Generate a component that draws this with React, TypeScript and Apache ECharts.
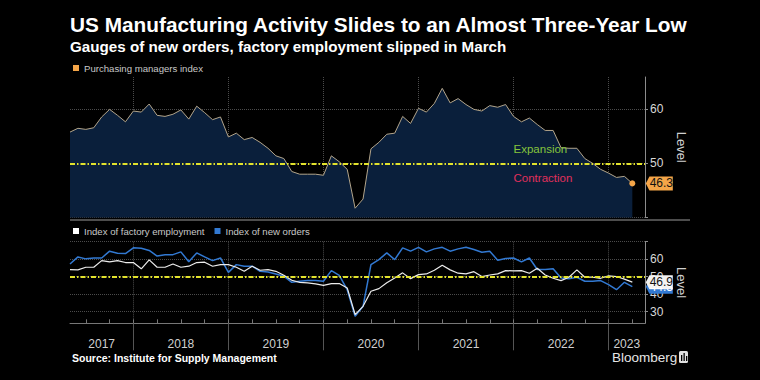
import React, { useEffect, useRef } from 'react';
import * as echarts from 'echarts';

const TITLE = 'US Manufacturing Activity Slides to an Almost Three-Year Low';
const SUBTITLE = 'Gauges of new orders, factory employment slipped in March';
const SOURCE = 'Source: Institute for Supply Management';
const PMI_NAME = 'Purchasing managers index';
const EMP_NAME = 'Index of factory employment';
const NO_NAME = 'Index of new orders';

// x is measured in months from the start of 2017; monthly readings are plotted at month end.
// First reading: April 2017 (end of month 4). Last: March 2023.
const FIRST_X = 4;
const AXIS_MIN = 4;
const AXIS_MAX = 76.6;

const years = ['2017', '2018', '2019', '2020', '2021', '2022', '2023'];
const yearStarts = [0, 12, 24, 36, 48, 60, 72];

// ISM manufacturing PMI, Apr 2017 – Mar 2023
const pmi = [
  55.8, 56.5, 56.3, 56.6, 58.6, 60.0, 58.9, 57.7, 59.7,
  59.5, 61.0, 58.9, 58.7, 59.1, 59.9, 58.2, 60.6, 59.4, 58.1, 58.6, 54.9,
  55.6, 54.4, 54.8, 53.9, 52.8, 51.4, 50.9, 48.5, 48.0, 48.0, 48.0, 47.8,
  51.4, 50.3, 48.9, 41.7, 43.4, 52.7, 53.9, 55.4, 55.6, 58.7, 57.4, 60.2,
  59.5, 61.1, 63.9, 61.2, 62.0, 60.9, 60.0, 59.7, 60.7, 60.4, 60.9, 58.7,
  57.7, 58.4, 57.2, 56.1, 56.1, 52.9, 52.8, 52.8, 50.9, 50.0, 48.9, 48.2,
  47.4, 47.6, 46.3,
];

// Employment index, Apr 2017 – Mar 2023
const employment = [
  54.1, 53.9, 55.4, 55.4, 59.2, 58.5, 59.2, 58.1, 58.1,
  54.5, 59.6, 55.4, 55.4, 57.3, 55.4, 56.0, 58.1, 58.3, 56.0, 56.9, 56.9,
  55.4, 53.1, 56.0, 53.7, 54.1, 53.1, 50.8, 48.0, 46.8, 46.5, 45.9, 45.1,
  46.1, 46.1, 43.6, 28.4, 33.1, 41.7, 43.2, 46.5, 49.3, 52.2, 48.9, 51.2,
  51.6, 53.7, 56.5, 53.9, 52.0, 51.6, 52.9, 50.1, 51.0, 51.6, 53.5, 53.3,
  53.5, 52.0, 54.8, 51.0, 49.1, 47.8, 49.7, 53.9, 49.7, 49.7, 49.1, 50.5,
  50.1, 48.6, 46.9,
];

// New orders index, Apr 2017 – Mar 2023
const newOrders = [
  57.3, 61.3, 60.2, 60.7, 60.7, 64.6, 63.4, 63.2, 66.5,
  66.3, 65.0, 61.8, 62.6, 62.6, 64.2, 58.5, 63.6, 61.3, 59.2, 60.7, 52.5,
  56.9, 56.0, 56.0, 53.1, 52.7, 51.6, 50.3, 46.8, 47.4, 47.8, 47.8, 47.4,
  53.5, 50.8, 42.6, 27.4, 33.1, 56.9, 59.8, 63.6, 59.8, 66.5, 64.6, 66.8,
  64.2, 65.9, 66.8, 64.6, 65.9, 66.8, 65.5, 64.0, 64.6, 59.4, 60.4, 60.7,
  58.5, 60.7, 54.1, 54.1, 54.6, 49.3, 48.9, 49.7, 47.4, 47.4, 47.8, 45.5,
  42.6, 46.8, 44.3,
];

const pmiTicks = [40, 50, 60];
const pmiLabels = [50, 60];
const subTicks = [30, 40, 50, 60, 70];
const subLabels = [30, 40, 50, 60];

const FONT = '"Liberation Sans", Arial, sans-serif';
const ORANGE = '#f4a548';
const BLUE = '#3279d2';
const WHITE = '#ececec';
const YELLOW = '#e2e22c';
const GRID_LINE = '#4b4b4b';
const TAG = 'path://M0,7 L4,0 L30,0 L30,14 L4,14 Z';

const toPoints = (vals: number[]) => vals.map((v, i) => [FIRST_X + i, v]);

const yearBounds = yearStarts.filter((s) => s > AXIS_MIN && s < AXIS_MAX);
const yearLabelAt = yearStarts.map(
  (s) => (Math.max(s, AXIS_MIN) + Math.min(s + 12, AXIS_MAX)) / 2
);
const quarterTicks: number[] = [];
for (let q = Math.ceil(AXIS_MIN / 3) * 3; q <= AXIS_MAX; q += 3) quarterTicks.push(q);

const yearFormatter = (v: number) => {
  let best = 0;
  yearLabelAt.forEach((p, i) => {
    if (Math.abs(p - v) < Math.abs(yearLabelAt[best] - v)) best = i;
  });
  return years[best];
};

const fiftyLine = {
  silent: true,
  symbol: 'none',
  label: { show: false },
  lineStyle: { color: YELLOW, type: [5, 2, 1.5, 2], width: 2 },
  data: [{ yAxis: 50 }],
};

const lastTag = (vals: number[], bg: string, fg: string) => {
  const i = vals.length - 1;
  return {
    coord: [FIRST_X + i, vals[i]],
    value: vals[i],
    symbol: TAG,
    symbolSize: [27, 14],
    symbolOffset: [27, 0],
    symbolKeepAspect: false,
    itemStyle: { color: bg },
    label: {
      show: true,
      position: 'inside',
      offset: [2, 0],
      color: fg,
      fontSize: 12,
      fontFamily: FONT,
      formatter: (p: any) => Number(p.value).toFixed(1),
    },
  };
};

const dotted = { color: GRID_LINE, type: 'dotted', width: 1 };

const option: any = {
  animation: false,
  backgroundColor: '#000',
  textStyle: { fontFamily: FONT },
  title: [
    {
      text: TITLE, left: 70, top: 14, padding: 0,
      textStyle: { color: '#fff', fontSize: 20.8, fontWeight: 'bold', fontFamily: FONT },
    },
    {
      text: SUBTITLE, left: 70, top: 39, padding: 0,
      textStyle: { color: '#fff', fontSize: 15.2, fontWeight: 'bold', fontFamily: FONT },
    },
    {
      text: SOURCE, left: 72, top: 352, padding: 0,
      textStyle: { color: '#fff', fontSize: 10.5, fontWeight: 'bold', fontFamily: FONT },
    },
    {
      text: 'Bloomberg', left: 612, top: 350, padding: 0,
      textStyle: { color: '#e6e6e6', fontSize: 13.5, fontWeight: 'normal', fontFamily: FONT },
    },
  ],
  legend: [
    {
      data: [{ name: PMI_NAME, itemStyle: { color: ORANGE } }],
      left: 73, top: 63, padding: 0, icon: 'rect', itemWidth: 6, itemHeight: 6,
      selectedMode: false,
      textStyle: { color: '#c8c8c8', fontSize: 9.6, fontFamily: FONT },
    },
    {
      data: [
        { name: EMP_NAME, itemStyle: { color: '#ffffff' } },
        { name: NO_NAME, itemStyle: { color: BLUE } },
      ],
      left: 73, top: 226, padding: 0, icon: 'rect', itemWidth: 6, itemHeight: 6, itemGap: 10,
      selectedMode: false,
      textStyle: { color: '#c8c8c8', fontSize: 9.6, fontFamily: FONT },
    },
  ],
  grid: [
    { left: 70, right: 115, top: 77, height: 140.4 },
    { left: 70, right: 115, top: 241.7, height: 81.6 },
  ],
  xAxis: [
    {
      gridIndex: 0, type: 'value', position: 'bottom', min: AXIS_MIN, max: AXIS_MAX, z: 3,
      axisLine: { show: false },
      axisTick: { show: false, customValues: yearBounds },
      axisLabel: { show: false },
      splitLine: { show: true, lineStyle: dotted },
    },
    {
      gridIndex: 1, type: 'value', position: 'bottom', min: AXIS_MIN, max: AXIS_MAX,
      axisLine: { show: true, lineStyle: { color: '#777', width: 1 } },
      axisTick: { show: true, inside: true, length: 4, customValues: quarterTicks, lineStyle: { color: '#777' } },
      axisLabel: { show: false },
      splitLine: { show: false },
    },
    {
      gridIndex: 1, type: 'value', position: 'bottom', offset: 0, min: AXIS_MIN, max: AXIS_MAX,
      axisLine: { show: false },
      axisTick: { show: true, length: 27, customValues: yearBounds, lineStyle: { color: '#555' } },
      axisLabel: {
        show: true, customValues: yearLabelAt, formatter: yearFormatter,
        color: '#d0d0d0', fontSize: 12, margin: 15, fontFamily: FONT,
      },
      splitLine: { show: true, lineStyle: dotted },
    },
  ],
  yAxis: [
    {
      gridIndex: 0, type: 'value', position: 'right', min: 40, max: 66, z: 3,
      axisLine: { show: true, lineStyle: { color: '#8c8c8c' } },
      axisTick: { show: true, length: 3, customValues: pmiTicks, lineStyle: { color: '#8c8c8c' } },
      axisLabel: { customValues: pmiLabels, color: '#d8d8d8', fontSize: 12, margin: 5, fontFamily: FONT },
      splitLine: { show: true, lineStyle: dotted },
      name: 'Level', nameLocation: 'middle', nameRotate: -90, nameGap: 30,
      nameTextStyle: { color: '#d0d0d0', fontSize: 13, fontFamily: FONT },
    },
    {
      gridIndex: 1, type: 'value', position: 'right', min: 23.4, max: 70,
      axisLine: { show: true, lineStyle: { color: '#8c8c8c' } },
      axisTick: { show: true, length: 3, customValues: subTicks, lineStyle: { color: '#8c8c8c' } },
      axisLabel: { customValues: subLabels, color: '#d8d8d8', fontSize: 12, margin: 5, fontFamily: FONT },
      splitLine: { show: true, lineStyle: dotted },
      name: 'Level', nameLocation: 'middle', nameRotate: -90, nameGap: 30,
      nameTextStyle: { color: '#d0d0d0', fontSize: 13, fontFamily: FONT },
    },
  ],
  series: [
    {
      name: PMI_NAME, type: 'line', xAxisIndex: 0, yAxisIndex: 0,
      data: toPoints(pmi), showSymbol: false,
      lineStyle: { color: '#b3a58b', width: 1 },
      itemStyle: { color: ORANGE },
      areaStyle: { color: '#0a1f3b', opacity: 1, origin: 'start' },
      markLine: fiftyLine,
      markPoint: {
        silent: true,
        data: [
          {
            coord: [FIRST_X + pmi.length - 1, pmi[pmi.length - 1]],
            symbol: 'circle', symbolSize: 6,
            itemStyle: { color: ORANGE }, label: { show: false },
          },
          lastTag(pmi, ORANGE, '#111'),
          {
            name: 'Expansion', coord: [60, 52.65], symbol: 'circle', symbolSize: 0,
            label: { show: true, position: 'right', distance: 0, formatter: '{b}', color: '#86c43c', fontSize: 11.5, fontFamily: FONT },
          },
          {
            name: 'Contraction', coord: [60, 47.3], symbol: 'circle', symbolSize: 0,
            label: { show: true, position: 'right', distance: 0, formatter: '{b}', color: '#e0305c', fontSize: 11.5, fontFamily: FONT },
          },
        ],
      },
    },
    {
      name: NO_NAME, type: 'line', xAxisIndex: 1, yAxisIndex: 1,
      data: toPoints(newOrders), showSymbol: false,
      lineStyle: { color: BLUE, width: 1.5 },
      itemStyle: { color: BLUE },
      markPoint: { silent: true, data: [lastTag(newOrders, BLUE, '#fff')] },
    },
    {
      name: EMP_NAME, type: 'line', xAxisIndex: 1, yAxisIndex: 1,
      data: toPoints(employment), showSymbol: false,
      lineStyle: { color: WHITE, width: 1.2 },
      itemStyle: { color: '#ffffff' },
      markLine: fiftyLine,
      markPoint: { silent: true, data: [lastTag(employment, '#f2f2f2', '#111')] },
    },
  ],
  graphic: [
    { type: 'rect', silent: true, shape: { x: 70, y: 219, width: 620, height: 2 }, style: { fill: '#4d4d4d' } },
    { type: 'rect', silent: true, shape: { x: 679, y: 351, width: 9, height: 12, r: 1.5 }, style: { fill: '#e0e0e0' } },
    { type: 'rect', silent: true, shape: { x: 681, y: 355, width: 1.3, height: 6 }, style: { fill: '#000' } },
    { type: 'rect', silent: true, shape: { x: 683.5, y: 353, width: 1.3, height: 8 }, style: { fill: '#000' } },
    { type: 'rect', silent: true, shape: { x: 686, y: 356, width: 1.3, height: 5 }, style: { fill: '#000' } },
  ],
};

export default function App() {
  const ref = useRef<HTMLDivElement>(null);
  useEffect(() => {
    if (!ref.current) return;
    const chart = echarts.init(ref.current, null, { renderer: 'svg' });
    chart.setOption(option);
    return () => chart.dispose();
  }, []);
  return (
    <div
      ref={ref}
      style={{ position: 'fixed', left: 0, top: 0, width: 760, height: 380, background: '#000' }}
    />
  );
}
